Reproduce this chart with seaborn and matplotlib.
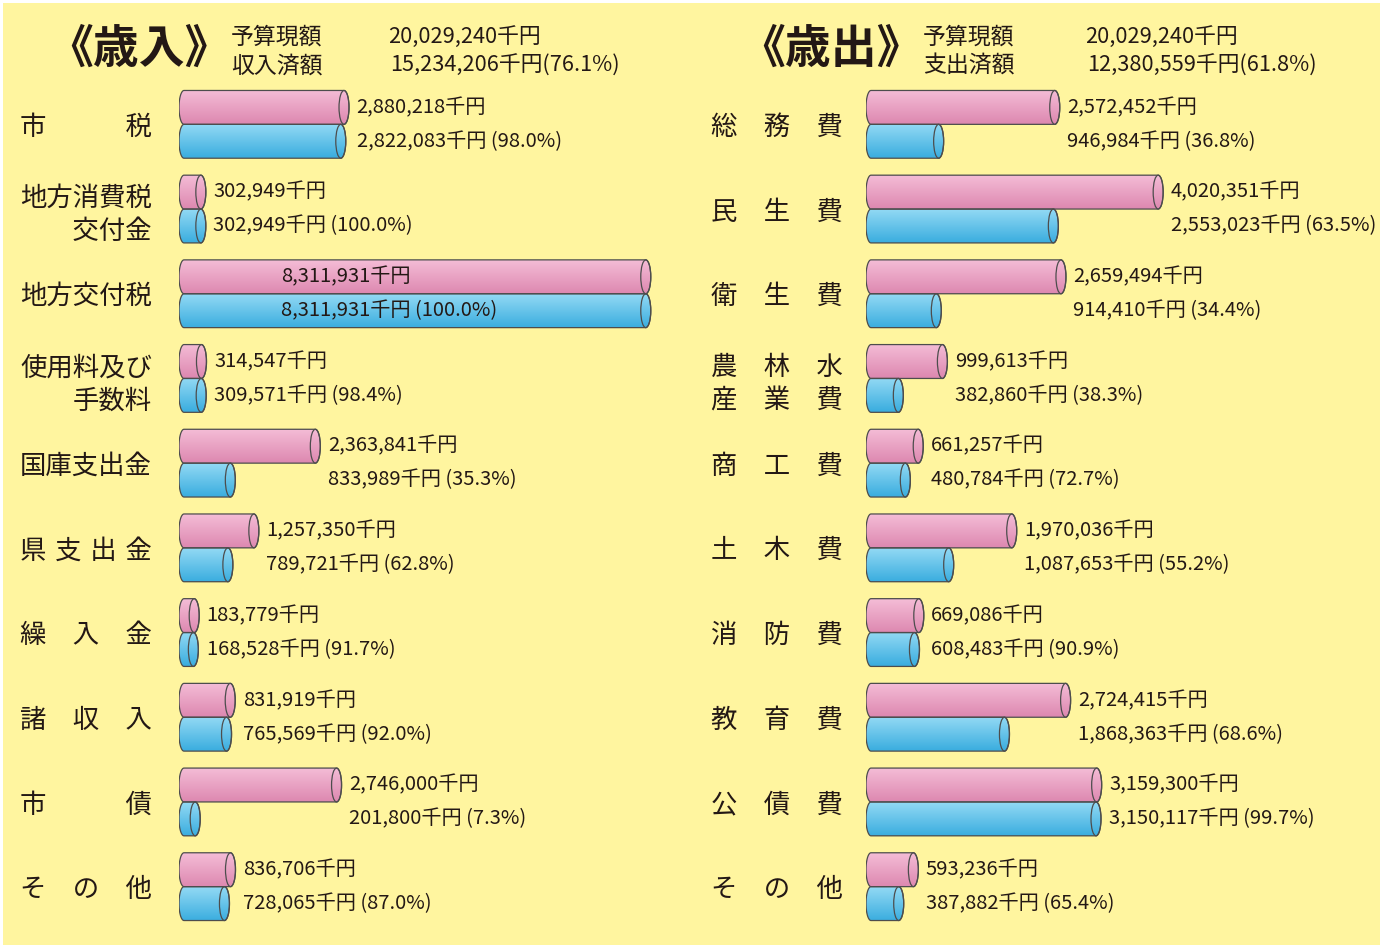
import matplotlib
matplotlib.use('Agg')
import numpy as np
import pandas as pd
import matplotlib.pyplot as plt
import seaborn as sns
from matplotlib.patches import Rectangle, Polygon, Ellipse
from matplotlib.colors import LinearSegmentedColormap

# 歳入
rev_items = ['市　　　税', '地方消費税\n　交付金', '地方交付税', '使用料及び\n手数料', '国庫支出金',
             '県\u2004支\u2004出\u2004金', '繰　入　金', '諸　収　入', '市　　　債', 'そ　の　他']
rev_budget = [2880218, 302949, 8311931, 314547, 2363841, 1257350, 183779, 831919, 2746000, 836706]
rev_actual = [2822083, 302949, 8311931, 309571, 833989, 789721, 168528, 765569, 201800, 728065]
rev_rate = ['98.0', '100.0', '100.0', '98.4', '35.3', '62.8', '91.7', '92.0', '7.3', '87.0']

# 歳出
exp_items = ['総　務　費', '民　生　費', '衛　生　費', '農　林　水\n産　業　費', '商　工　費',
             '土　木　費', '消　防　費', '教　育　費', '公　債　費', 'そ　の　他']
exp_budget = [2572452, 4020351, 2659494, 999613, 661257, 1970036, 669086, 2724415, 3159300, 593236]
exp_actual = [946984, 2553023, 914410, 382860, 480784, 1087653, 608483, 1868363, 3150117, 387882]
exp_rate = ['36.8', '63.5', '34.4', '38.3', '72.7', '55.2', '90.9', '68.6', '99.7', '65.4']

BG = '#FFF59F'
INK = '#231815'
EDGE = '#4d4d4d'
PINK = ('#F4BCD6', '#DD88B0')
BLUE = ('#92D9F4', '#3AADDF')

sns.set_theme(style='white')
plt.rcParams['font.family'] = ['Noto Sans CJK JP', 'DejaVu Sans']

W, H = 1386, 949
fig = plt.figure(figsize=(W / 100, H / 100), dpi=100)
fig.patch.set_facecolor('white')
fig.add_artist(Rectangle((3 / W, 4 / H), 1377 / W, 942 / H, transform=fig.transFigure,
                         fc=BG, ec='none', zorder=-1))


def make_df(items, budget, actual):
    return pd.DataFrame({
        'item': items * 2,
        'kind': ['予算'] * len(items) + ['済額'] * len(items),
        'value': budget + actual,
    })


def cylinders(ax, ew_px):
    x_lo, x_hi = ax.get_xlim()
    ew = ew_px * (x_hi - x_lo) / (ax.get_position().width * W)
    a = ew / 2
    t = np.linspace(-np.pi / 2, np.pi / 2, 40)
    for cont, (top, bot) in zip(ax.containers, [PINK, BLUE]):
        cmap = LinearSegmentedColormap.from_list('g', [top, bot])
        for bar in cont:
            x0, y0 = bar.get_x(), bar.get_y()
            w, h = bar.get_width(), bar.get_height()
            x1, cy, b = x0 + w, y0 + h / 2, h / 2
            bar.set_edgecolor('none')
            right = np.column_stack([x1 + a * np.cos(t), cy + b * np.sin(t)])
            left = np.column_stack([x0 - a * np.cos(t), cy - b * np.sin(t)])
            verts = np.vstack([right, left])
            clip = Polygon(verts, closed=True, transform=ax.transData)
            grad = np.linspace(0, 1, 64).reshape(-1, 1)
            im = ax.imshow(grad, cmap=cmap, extent=(x0 - a, x1 + a, y0 + h, y0),
                           aspect='auto', origin='upper', zorder=3)
            im.set_clip_path(clip)
            ax.add_patch(Polygon(verts, closed=True, fc='none', ec=EDGE, lw=0.9, zorder=4))
            ax.add_patch(Ellipse((x1, cy), ew, h, fc='none', ec=EDGE, lw=0.9, zorder=4))


def value_labels(ax, budget, actual, rate):
    xmax = ax.get_xlim()[1]
    for i, (bv, av, r) in enumerate(zip(budget, actual, rate)):
        t1 = f'{bv:,}千円'
        t2 = f'{av:,}千円 ({r}%)'
        if bv > 0.8 * xmax:
            x, off = 0.21 * bv, 0
        else:
            x, off = bv, 9
        for y, s in [(i - 0.2, t1), (i + 0.2, t2)]:
            ax.annotate(s, xy=(x, y), xytext=(off, 0), textcoords='offset points',
                        ha='left', va='center', fontsize=14.5, color=INK, zorder=6)


def panel(left_px, width_px, items, budget, actual, rate, per_px, pad):
    ax_top, ax_bot = 82, 929
    ax = fig.add_axes([left_px / W, 1 - ax_bot / H, width_px / W, (ax_bot - ax_top) / H])
    df = make_df(items, budget, actual)
    sns.barplot(data=df, x='value', y='item', hue='kind', orient='h',
                palette=[PINK[1], BLUE[1]], width=0.8, legend=False, ax=ax)
    xlim = (-5 * per_px, (width_px - 5) * per_px)
    ax.set_xlim(xlim)
    cylinders(ax, 10)
    ax.set_xlim(xlim)
    ax.set_ylim(len(items) - 0.5, -0.5)
    ax.set_aspect('auto')
    ax.set_facecolor('none')
    ax.set_xlabel('')
    ax.set_ylabel('')
    ax.set_xticks([])
    ax.set_yticks(range(len(items)))
    ax.set_yticklabels(items, fontsize=19, color=INK, linespacing=1.3)
    ax.tick_params(axis='y', length=0, pad=pad)
    for s in ax.spines.values():
        s.set_visible(False)
    value_labels(ax, budget, actual, rate)
    return ax


panel(179, 521, rev_items, rev_budget, rev_actual, rev_rate, 18000, 19.5)
panel(866, 520, exp_items, exp_budget, exp_actual, exp_rate, 14000, 16.5)

# 見出し
heads = [
    (47, '《歳入》', 231, '予算現額', '収入済額', 388, '20,029,240千円', '15,234,206千円(76.1%)'),
    (739, '《歳出》', 923, '予算現額', '支出済額', 1085, '20,029,240千円', '12,380,559千円(61.8%)'),
]
for tx, title, lx, l1, l2, nx, n1, n2 in heads:
    fig.text(tx / W, 1 - 50 / H, title, fontsize=33, fontweight='bold', color=INK,
             ha='left', va='center')
    fig.text(lx / W, 1 - 37 / H, l1, fontsize=16.5, color=INK, ha='left', va='center')
    fig.text(lx / W, 1 - 66 / H, l2, fontsize=16.5, color=INK, ha='left', va='center')
    fig.text(nx / W, 1 - 37 / H, n1, fontsize=15.7, color=INK, ha='left', va='center')
    fig.text((nx + 2) / W, 1 - 66 / H, n2, fontsize=15.7, color=INK, ha='left', va='center')

fig.savefig('out.png', dpi=100, facecolor=fig.get_facecolor())
